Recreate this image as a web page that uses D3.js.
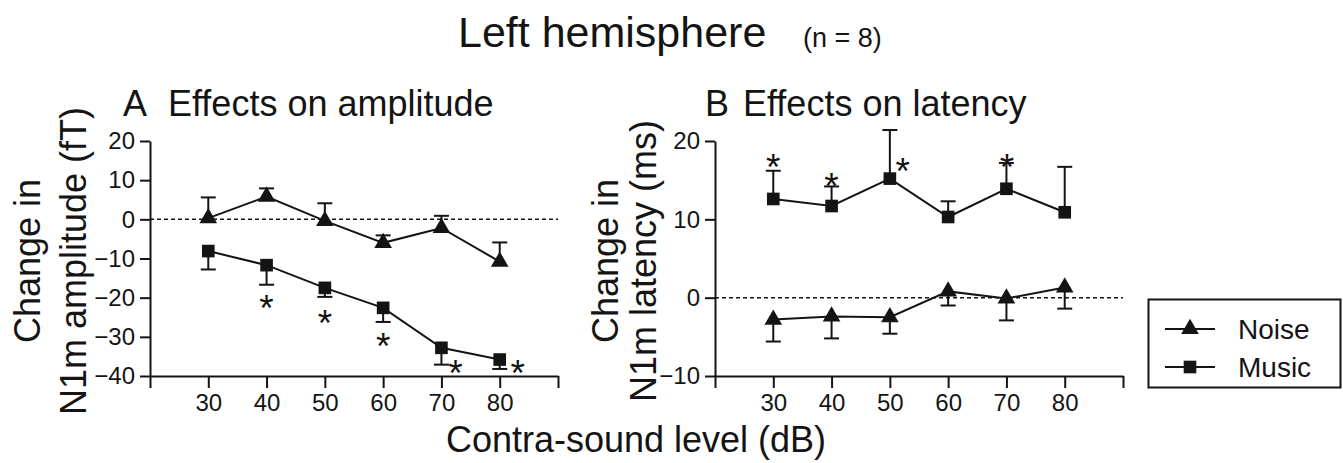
<!DOCTYPE html>
<html>
<head>
<meta charset="utf-8">
<script src="https://cdn.jsdelivr.net/npm/d3@7"></script>
<style>
  body { margin: 0; background: #fff; }
  svg { display: block; }
</style>
</head>
<body>
<div id="chart"></div>
<script>
// Data
const levels = [30, 40, 50, 60, 70, 80];
const xTicks = [20, 30, 40, 50, 60, 70, 80, 90];
const ampTicks = [-40, -30, -20, -10, 0, 10, 20];
const latTicks = [-10, 0, 10, 20];

// Panel A - amplitude (fT)
const ampNoise = [0.3, 5.8, -0.4, -6.0, -2.2, -10.8];
const ampNoiseSem = [5.3, 2.1, 4.5, 1.9, 3.1, 4.9];
const ampMusic = [-8.1, -11.7, -17.5, -22.6, -32.8, -35.8];
const ampMusicSem = [4.7, 5.0, 2.3, 3.6, 4.3, 2.4];
const ampStars = [[40, -20.3], [50, -24.0], [60, -29.9], [72.4, -37.0], [83.1, -37.0]];

// Panel B - latency (ms)
const latMusic = [12.6, 11.7, 15.2, 10.3, 13.9, 10.9];
const latMusicSem = [3.6, 2.5, 6.2, 2.0, 3.3, 5.8];
const latNoise = [-2.8, -2.4, -2.5, 0.8, -0.1, 1.3];
const latNoiseSem = [2.8, 2.8, 2.1, 1.8, 2.8, 2.7];
const latStars = [[30, 17.9], [40, 15.4], [52.2, 17.3], [70.1, 17.8]];

const FONT = "'Liberation Sans', Arial, Helvetica, sans-serif";
const INK = "#141414";

const svg = d3.select("#chart")
    .append("svg")
    .attr("width", 1343)
    .attr("height", 463);

const triangle = d3.symbol().type(d3.symbolTriangle).size(135);
const square = d3.symbol().type(d3.symbolSquare).size(160);

function drawPanel(cfg) {
    const x = d3.scaleLinear().domain([20, 90]).range(cfg.xRange);
    const y = d3.scaleLinear().domain(cfg.yDomain).range([376, 141]);
    const g = svg.append("g");

    // zero line
    g.append("line")
        .attr("x1", x(20)).attr("x2", x(90))
        .attr("y1", y(0)).attr("y2", y(0))
        .attr("stroke", INK)
        .attr("stroke-width", 1.5)
        .attr("stroke-dasharray", "4,3");

    // axes
    const yAxis = g.append("g")
        .attr("transform", `translate(${x(20)},0)`)
        .call(d3.axisLeft(y).tickValues(cfg.yTicks).tickSize(10).tickSizeOuter(0).tickPadding(5));
    const xAxis = g.append("g")
        .attr("transform", `translate(0,${y(cfg.yDomain[0])})`)
        .call(d3.axisBottom(x).tickValues(xTicks)
            .tickFormat(d => (d === 20 || d === 90) ? "" : d)
            .tickSize(12).tickSizeOuter(0).tickPadding(6));
    [yAxis, xAxis].forEach(a => {
        a.attr("font-family", FONT).attr("font-size", 24);
        a.selectAll("path, line").attr("stroke", INK).attr("stroke-width", 2);
        a.selectAll("text").attr("fill", INK);
    });

    // series
    cfg.series.forEach(s => {
        const pts = levels.map((lv, i) => ({ lv, v: s.values[i], e: s.sem[i] }));

        g.append("path")
            .datum(pts)
            .attr("fill", "none")
            .attr("stroke", INK)
            .attr("stroke-width", 2)
            .attr("d", d3.line().x(d => x(d.lv)).y(d => y(d.v)));

        pts.forEach(d => {
            const end = d.v + s.dir * d.e;
            g.append("line")
                .attr("x1", x(d.lv)).attr("x2", x(d.lv))
                .attr("y1", y(d.v)).attr("y2", y(end))
                .attr("stroke", INK).attr("stroke-width", 2);
            g.append("line")
                .attr("x1", x(d.lv) - 7.5).attr("x2", x(d.lv) + 7.5)
                .attr("y1", y(end)).attr("y2", y(end))
                .attr("stroke", INK).attr("stroke-width", 2);
        });

        g.selectAll(null)
            .data(pts)
            .enter().append("path")
            .attr("transform", d => `translate(${x(d.lv)},${y(d.v)})`)
            .attr("d", s.symbol)
            .attr("fill", INK);
    });

    // significance stars
    g.selectAll(null)
        .data(cfg.stars)
        .enter().append("text")
        .attr("x", d => x(d[0]))
        .attr("y", d => y(d[1]))
        .attr("dy", "0.6em")
        .attr("text-anchor", "middle")
        .attr("font-family", FONT)
        .attr("font-size", 37)
        .attr("fill", INK)
        .text("*");

    // panel title
    g.append("text")
        .attr("x", cfg.titleX[0]).attr("y", 116)
        .attr("font-family", FONT).attr("font-size", 36).attr("fill", INK)
        .text(cfg.letter);
    g.append("text")
        .attr("x", cfg.titleX[1]).attr("y", 116)
        .attr("font-family", FONT).attr("font-size", 36).attr("fill", INK)
        .text(cfg.title);

    // y label, two lines
    cfg.yLabel.forEach((t, i) => {
        g.append("text")
            .attr("transform", `translate(${cfg.yLabelX[i]},261) rotate(-90)`)
            .attr("text-anchor", "middle")
            .attr("font-family", FONT).attr("font-size", 36).attr("fill", INK)
            .text(t);
    });
}

drawPanel({
    xRange: [150, 558],
    yDomain: [-40, 20],
    yTicks: ampTicks,
    series: [
        { values: ampNoise, sem: ampNoiseSem, dir: 1, symbol: triangle },
        { values: ampMusic, sem: ampMusicSem, dir: -1, symbol: square }
    ],
    stars: ampStars,
    letter: "A",
    title: "Effects on amplitude",
    titleX: [123, 168],
    yLabel: ["Change in", "N1m amplitude (fT)"],
    yLabelX: [40, 86]
});

drawPanel({
    xRange: [715, 1123],
    yDomain: [-10, 20],
    yTicks: latTicks,
    series: [
        { values: latMusic, sem: latMusicSem, dir: 1, symbol: square },
        { values: latNoise, sem: latNoiseSem, dir: -1, symbol: triangle }
    ],
    stars: latStars,
    letter: "B",
    title: "Effects on latency",
    titleX: [705, 743],
    yLabel: ["Change in", "N1m latency (ms)"],
    yLabelX: [618, 656]
});

// main title
svg.append("text")
    .attr("x", 458).attr("y", 47)
    .attr("font-family", FONT).attr("font-size", 43).attr("fill", INK)
    .text("Left hemisphere");
svg.append("text")
    .attr("x", 803).attr("y", 47)
    .attr("font-family", FONT).attr("font-size", 27).attr("fill", INK)
    .text("(n = 8)");

// shared x label
svg.append("text")
    .attr("x", 636).attr("y", 452)
    .attr("text-anchor", "middle")
    .attr("font-family", FONT).attr("font-size", 36).attr("fill", INK)
    .text("Contra-sound level (dB)");

// legend
const legendItems = [
    { name: "Noise", symbol: triangle, y: 329 },
    { name: "Music", symbol: square, y: 367 }
];
const legend = svg.append("g");
legend.append("rect")
    .attr("x", 1148.5).attr("y", 299.5)
    .attr("width", 192).attr("height", 88)
    .attr("fill", "#fff")
    .attr("stroke", INK).attr("stroke-width", 2);
legendItems.forEach(item => {
    legend.append("line")
        .attr("x1", 1165).attr("x2", 1215)
        .attr("y1", item.y).attr("y2", item.y)
        .attr("stroke", INK).attr("stroke-width", 2);
    legend.append("path")
        .attr("transform", `translate(1190,${item.y})`)
        .attr("d", item.symbol)
        .attr("fill", INK);
    legend.append("text")
        .attr("x", 1238).attr("y", item.y + 9.5)
        .attr("font-family", FONT).attr("font-size", 28).attr("fill", INK)
        .text(item.name);
});
</script>
</body>
</html>
